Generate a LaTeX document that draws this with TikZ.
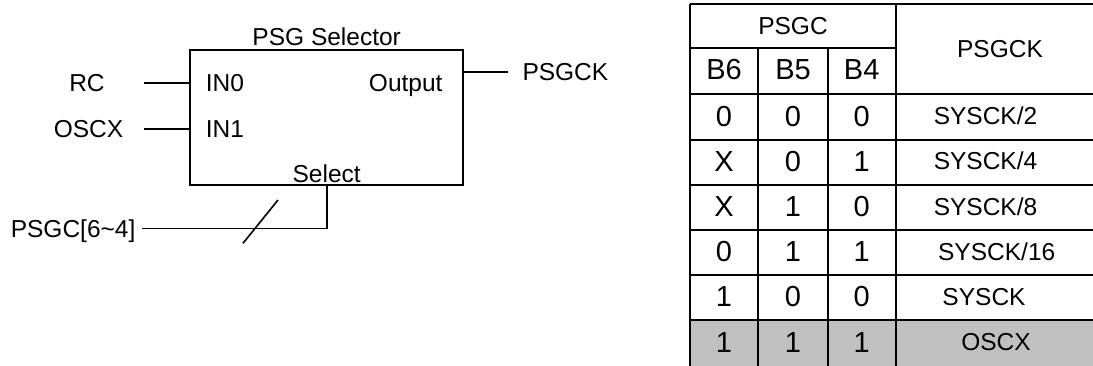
\documentclass[tikz,border=0pt]{standalone}
\usepackage{fontspec}
\setmainfont{Liberation Sans}
\usetikzlibrary{positioning}

\definecolor{rowgray}{HTML}{C0C0C0}

\begin{document}
\begin{tikzpicture}[
    x=1pt, y=-1pt,
    line width=1.6pt,
    font=\fontsize{24.5}{29}\selectfont,
    lbl/.style={inner sep=0pt, text height=17.6pt, text depth=0pt},
    cell/.style={lbl},
    bitcell/.style={inner sep=0pt, text height=20.8pt, text depth=0pt,
      font=\fontsize{29}{34}\selectfont},
    grid/.style={line width=2pt},
  ]
  \useasboundingbox (0,0) rectangle (1093,365);

  % selector block
  \node (sel) [draw, inner sep=0pt, minimum width=273pt, minimum height=135pt] at (326.7,117.5) {};
  \node (title) [lbl] at (326.7,37) {PSG Selector};
  \node (in0) [lbl, anchor=west] at (205,82.7) {IN0};
  \node (in1) [lbl, anchor=west] at (205,128.7) {IN1};
  \node (outp) [lbl, anchor=east] at (443.3,82.2) {Output};
  \node (selct) [lbl] at (326.7,174) {Select};

  \node (rc) [lbl] at (87,82.7) {RC};
  \node (oscx) [lbl] at (88.5,128.7) {OSCX};
  \node (psgck) [lbl, anchor=west] at (521.7,71.7) {PSGCK};
  \node (psgc) [lbl, anchor=west] at (10,228.3) {PSGC[6\char`\~4]};

  \coordinate (rcw) at (144,82.7);
  \coordinate (oscxw) at (144,128.7);
  \coordinate (oute) at (508,71.7);
  \coordinate (busw) at (141.7,228.3);
  \coordinate (slasha) at (243,243.3);
  \coordinate (slashb) at (278,200);

  \draw (rcw) -- (rcw -| sel.west);
  \draw (oscxw) -- (oscxw -| sel.west);
  \draw (oute -| sel.east) -- (oute);
  \draw (sel.south) |- (busw);
  \draw (slasha) -- (slashb);

  % truth table
  \begin{scope}
    \clip (0,0) rectangle (1093,365);
    \fill[rowgray] (690,320) rectangle (1100,370);
    \draw[grid] (690,4) -- (1100,4);
    \draw[grid] (690,48.3) -- (895.7,48.3);
    \foreach \y in {94.3,140,185,230,275,320}
      \draw[grid] (690,\y) -- (1100,\y);
    \foreach \x in {690,895.7}
      \draw[grid] (\x,4) -- (\x,370);
    \foreach \x in {758.3,827.7}
      \draw[grid] (\x,48.3) -- (\x,370);
  \end{scope}

  \node (hpsgc) [cell] at (793,26) {PSGC};
  \node (hpsgck) [cell] at (1000,49) {PSGCK};
  \node (hb6) [bitcell] at (724,69) {B6};
  \node (hb5) [bitcell] at (793,69) {B5};
  \node (hb4) [bitcell] at (861.7,69) {B4};

  \foreach \bsix/\bfive/\bfour/\clk/\cx [count=\r] in
    {0/0/0/{SYSCK/2}/985.5, X/0/1/{SYSCK/4}/985.5, X/1/0/{SYSCK/8}/985.5,
     0/1/1/{SYSCK/16}/996.7, 1/0/0/{SYSCK}/984, 1/1/1/{OSCX}/996}
  {
    \pgfmathsetmacro\ry{94.3+(\r-1)*45.15+21.6}
    \node (b6r\r) [bitcell] at (724,\ry) {\bsix};
    \node (b5r\r) [bitcell] at (793,\ry) {\bfive};
    \node (b4r\r) [bitcell] at (861.7,\ry) {\bfour};
    \node (clkr\r) [cell] at (\cx,\ry) {\clk};
  }
\end{tikzpicture}
\end{document}
